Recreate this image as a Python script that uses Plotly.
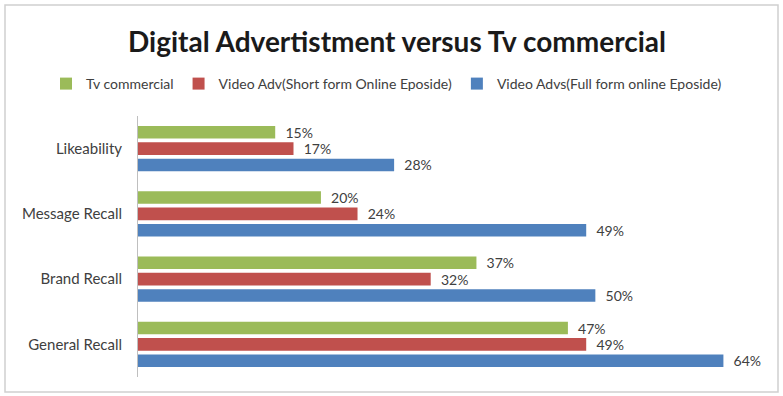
import plotly.graph_objects as go

categories = ["Likeability", "Message Recall", "Brand Recall", "General Recall"]
tv_commercial = [15, 20, 37, 47]
video_short = [17, 24, 32, 49]
video_full = [28, 49, 50, 64]

series_names = [
    "Tv commercial",
    "Video Adv(Short form Online Eposide)",
    "Video Advs(Full form online Eposide)",
]
series_colors = ["#9BBB59", "#C0504D", "#4F81BD"]

W, H = 783, 396
L, R, T, B = 138, 23, 116, 19
FONT = "Lato"
TEXT_COLOR = "#404040"

fig = go.Figure()
for name, vals, color in zip(series_names, [tv_commercial, video_short, video_full], series_colors):
    fig.add_trace(go.Bar(
        y=categories,
        x=vals,
        name=name,
        orientation="h",
        marker=dict(color=color, line=dict(width=0)),
        text=[f"\u00a0\u00a0{v}%" for v in vals],
        textposition="outside",
        constraintext="none",
        textfont=dict(family=FONT, size=14, color=TEXT_COLOR),
        cliponaxis=False,
    ))

# pixel -> paper coordinate helpers
pw, ph = W - L - R, H - T - B
def px_x(x):
    return (x - L) / pw
def px_y(y):
    return (H - B - y) / ph

# outer chart border
fig.add_shape(type="rect", xref="paper", yref="paper",
              x0=px_x(5), x1=px_x(778), y0=px_y(392), y1=px_y(5),
              line=dict(color="#D0D0D0", width=1.5), fillcolor="rgba(0,0,0,0)", layer="below")

fig.update_layout(
    width=W, height=H,
    margin=dict(l=L, r=R, t=T, b=B),
    paper_bgcolor="white", plot_bgcolor="white",
    barmode="group", bargap=0.25, bargroupgap=0.23,
    title=dict(text="<b>Digital Advertistment versus Tv commercial</b>",
               x=397 / W, xanchor="center", xref="container",
               y=1 - 42 / H, yanchor="middle", yref="container",
               font=dict(family=FONT, size=28, color="#1a1a1a")),
    legend=dict(orientation="h", x=px_x(46), xanchor="left", xref="paper",
                y=px_y(84), yanchor="middle", yref="paper",
                font=dict(family=FONT, size=14, color=TEXT_COLOR),
                traceorder="normal"),
    xaxis=dict(range=[0, 68], showgrid=False, zeroline=False, showticklabels=False,
               showline=False, ticks=""),
    yaxis=dict(autorange="reversed", showgrid=False, zeroline=False,
               showline=True, linecolor="#BFBFBF", linewidth=1, ticks="",
               tickfont=dict(family=FONT, size=15, color=TEXT_COLOR), ticklabelstandoff=12),
    showlegend=True,
)

fig.write_html("out.html")
